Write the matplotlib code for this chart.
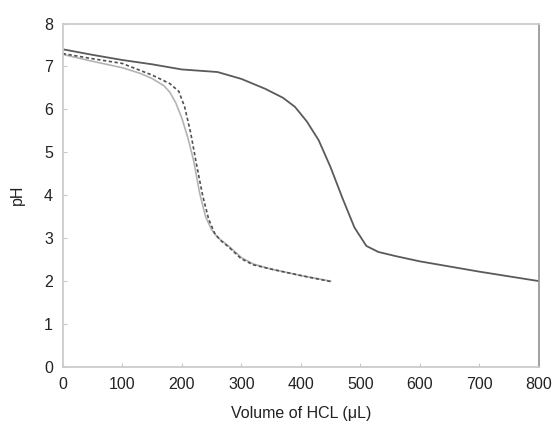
import numpy as np
import matplotlib
matplotlib.use('Agg')
import matplotlib.pyplot as plt

plt.rcParams['font.family'] = ['Liberation Sans', 'DejaVu Sans']

# titration curves: pH against volume of HCl added (uL)
vol_a = [0, 50, 100, 150, 200, 230, 260, 300, 340, 370, 390, 410, 430, 450,
         470, 490, 510, 530, 560, 600, 650, 700, 750, 800]
ph_a = [7.40, 7.27, 7.15, 7.05, 6.93, 6.90, 6.87, 6.71, 6.48, 6.27, 6.06, 5.72,
        5.28, 4.65, 3.93, 3.25, 2.82, 2.68, 2.58, 2.46, 2.34, 2.22, 2.11, 2.00]

vol_b = [0, 50, 100, 150, 180, 195, 205, 215, 225, 235, 245, 255, 265, 280,
         300, 320, 350, 400, 450]
ph_b = [7.30, 7.18, 7.07, 6.80, 6.60, 6.42, 6.05, 5.45, 4.70, 4.00, 3.45, 3.12,
        2.95, 2.78, 2.52, 2.38, 2.28, 2.13, 1.99]

vol_c = [0, 50, 100, 130, 150, 170, 180, 190, 200, 210, 220, 230, 240, 250,
         260, 280, 300, 320, 350, 400, 450]
ph_c = [7.28, 7.12, 6.97, 6.84, 6.72, 6.55, 6.40, 6.15, 5.80, 5.35, 4.80, 4.05,
        3.50, 3.20, 3.02, 2.80, 2.55, 2.40, 2.28, 2.13, 2.00]

xticks = [0, 100, 200, 300, 400, 500, 600, 700, 800]
yticks = [0, 1, 2, 3, 4, 5, 6, 7, 8]

fig = plt.figure(figsize=(5.52, 4.25), dpi=100)
ax = fig.add_axes([0.1136, 0.1365, 0.8628, 0.8082])

ax.plot(vol_c, ph_c, color='#b4b4b4', lw=1.2)
ax.plot(vol_b, ph_b, color='#505050', lw=1.2, ls=(0, (2, 1.5)))
ax.plot(vol_a, ph_a, color='#5a5a5a', lw=1.3)

ax.set_xlim(0, 800)
ax.set_ylim(0, 8)
ax.set_xticks(xticks)
ax.set_yticks(yticks)
ax.tick_params(direction='in', length=3, width=0.8, color='#c8c8c8',
               labelsize=11.5, labelcolor='#222222', pad=7)

for side in ['left', 'bottom', 'top']:
    ax.spines[side].set_color('#cccccc')
    ax.spines[side].set_linewidth(1.3)
ax.spines['right'].set_color('#9a9a9a')
ax.spines['right'].set_linewidth(1.3)

ax.set_xlabel('Volume of HCL (μL)', fontsize=11.5, color='#222222', labelpad=10)
ax.set_ylabel('pH', fontsize=11.5, color='#222222', labelpad=14)

fig.savefig('out.png', dpi=100)
